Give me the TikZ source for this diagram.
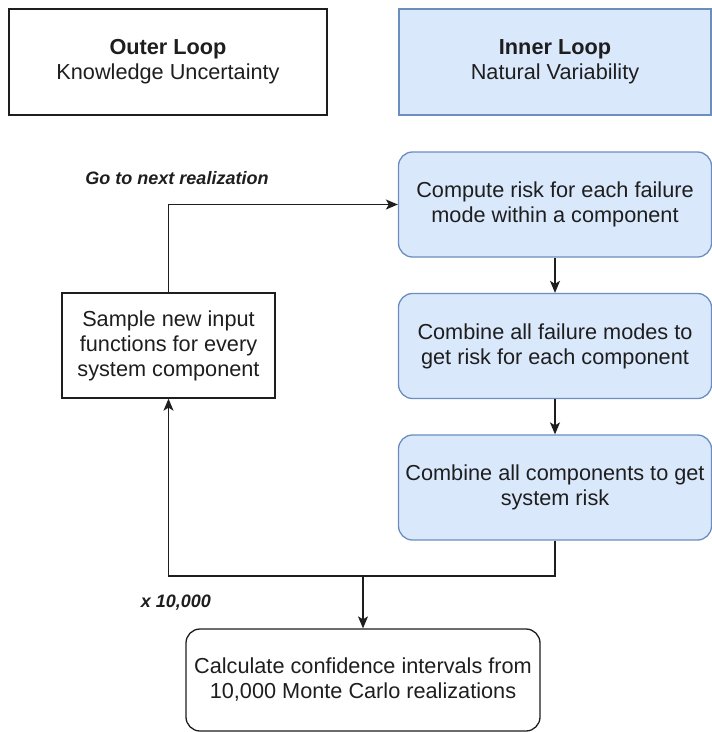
\documentclass[tikz,border=0pt]{standalone}
\usepackage{fontspec}
\setmainfont{Liberation Sans}
\usetikzlibrary{arrows.meta}
\definecolor{inkc}{RGB}{30,30,30}
\definecolor{bluefill}{RGB}{218,232,252}
\definecolor{blueline}{RGB}{108,142,191}

\begin{document}
\begin{tikzpicture}[x=1pt,y=-1pt,
  box/.style={draw=inkc, line width=1.3pt, fill=white, align=center, inner sep=0pt,
              font=\fontsize{21.7}{25}\selectfont, text=inkc},
  bluebox/.style={box, draw=blueline, fill=bluefill},
  roundbox/.style={rounded corners=14pt},
  flow/.style={draw=inkc, line width=1.3pt, -{Stealth[length=12pt,width=10pt,inset=3pt]}},
  lbl/.style={font=\fontsize{18}{20}\selectfont\bfseries\itshape, text=inkc}]

\useasboundingbox (0,0) rectangle (712,732);

% header boxes
\node[box, minimum width=318pt, minimum height=106pt] (outer) at (168,62)
  {\textbf{Outer Loop}\\Knowledge Uncertainty};
\node[bluebox, minimum width=312pt, minimum height=106pt] (inner) at (555,62)
  {\textbf{Inner Loop}\\Natural Variability};

% outer loop step
\node[box, minimum width=213pt, minimum height=105pt] (sample) at (168.5,345.5)
  {Sample new input\\functions for every\\system component};

% inner loop steps
\node[bluebox, roundbox, minimum width=313pt, minimum height=105pt] (risk) at (555,204.5)
  {Compute risk for each failure\\mode within a component};
\node[bluebox, roundbox, minimum width=313pt, minimum height=105pt] (combine) at (555,346)
  {Combine all failure modes to\\get risk for each component};
\node[bluebox, roundbox, minimum width=313pt, minimum height=105pt] (system) at (555,487.5)
  {Combine all components to get\\system risk};

% final step
\node[box, roundbox, minimum width=354pt, minimum height=102pt] (calc) at (363,680)
  {Calculate confidence intervals from\\10,000 Monte Carlo realizations};

% labels
\node[lbl] (next) at (177,178) {Go to next realization};
\node[lbl] (times) at (176,603) {x 10,000};

% connectors
\coordinate (join) at (363,576);
\coordinate (loopL) at (sample.south |- join);
\draw[flow] (sample.north) |- (risk.west);
\draw[flow] (risk.south) -- (combine.north);
\draw[flow] (combine.south) -- (system.north);
\draw[flow] (system.south) |- (loopL) -- (sample.south);
\draw[flow] (join) -- (calc.north);
\end{tikzpicture}
\end{document}
